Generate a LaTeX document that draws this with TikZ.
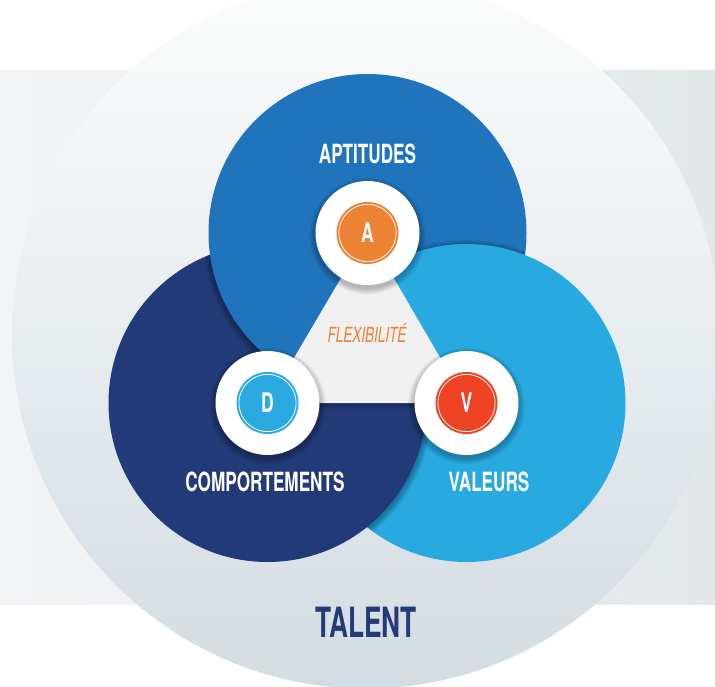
\documentclass[tikz,border=0pt]{standalone}
\usepackage{fontspec}
\newfontfamily\cnd[FakeStretch=0.65]{TeX Gyre Heros}
\newfontfamily\cndt[FakeStretch=0.63]{TeX Gyre Heros}
\usetikzlibrary{calc}
\definecolor{topblue}{HTML}{1F74BB}
\definecolor{navy}{HTML}{233A78}
\definecolor{lightblue}{HTML}{28A9E0}
\definecolor{orangeA}{HTML}{EE8234}
\definecolor{blueD}{HTML}{2AAAE1}
\definecolor{redV}{HTML}{EF4123}
\definecolor{trigray}{HTML}{F0F0F0}
\definecolor{flexorange}{HTML}{EE7F33}
\definecolor{bandL}{HTML}{F2F3F5}
\definecolor{bandR}{HTML}{E2E7EA}
\definecolor{bigT}{HTML}{FBFCFC}
\definecolor{bigB}{HTML}{D3DCE2}
\newcommand\mysoftshadow[4]{% center, radius, yshift, opacity
  \foreach \k in {1,...,8}{%
    \fill[black,opacity=#4] ($(#1)+(0,#3)$) circle[radius={(#2+\k*0.8)*1pt}];}}
\begin{document}
\begin{tikzpicture}[x=1pt,y=-1pt,
  lbl/.style={text=white, font=\cnd\bfseries\fontsize{26.4}{30}\selectfont, anchor=base, inner sep=0pt},
  flexlbl/.style={text=flexorange, font=\cnd\itshape\fontsize{20.8}{24}\selectfont, anchor=base, inner sep=0pt},
  talentlbl/.style={text=navy, font=\cndt\bfseries\fontsize{41.7}{46}\selectfont, anchor=base, inner sep=0pt},
  letterlbl/.style={text=white, font=\cnd\bfseries\fontsize{27}{30}\selectfont, inner sep=0pt},
  whitedisk/.style={circle, fill=white, minimum size=104pt, inner sep=0pt},
  colordisk/.style={circle, minimum size=62pt, inner sep=0pt},
  ring/.style={white, line width=0.8pt}]
\useasboundingbox (0,0) rectangle (715,687);
\fill[white] (0,0) rectangle (715,687);
% background band and big circle
\shade[left color=bandL, right color=bandR] (0,70.5) rectangle (715,604.5);
\shade[top color=bigT, bottom color=bigB] (366,334.5) circle[radius=354pt];
% centres
\coordinate (A) at (367.5,233);
\coordinate (D) at (267.5,403);
\coordinate (V) at (466.5,403);
% navy circle
\fill[navy] (D) circle[radius=159pt];
\begin{scope}
  \clip (D) circle[radius=159pt];
  \mysoftshadow{A}{159}{2}{0.035}
\end{scope}
% top circle
\fill[topblue] (A) circle[radius=159pt];
\begin{scope}
  \clip (A) circle[radius=159pt];
  \mysoftshadow{V}{159}{2}{0.035}
\end{scope}
% light blue circle
\fill[lightblue] (V) circle[radius=159pt];
\begin{scope}
  \clip (V) circle[radius=159pt];
  \mysoftshadow{D}{159}{2}{0.04}
\end{scope}
\begin{scope}
  \clip (V) circle[radius=160.8pt];
  \fill[navy] (D) circle[radius=159pt];
\end{scope}
% triangle
\foreach \k in {1,...,6}{%
  \fill[black,opacity=0.04] ($(A)+(0,\k)$) -- ($(D)+(0,\k)$) -- ($(V)+(0,\k)$) -- cycle;}
\fill[trigray] (A) -- (D) -- (V) -- cycle;
% white disks with shadows
\mysoftshadow{A}{52}{3}{0.03}
\mysoftshadow{D}{52}{3}{0.03}
\mysoftshadow{V}{52}{3}{0.03}
\node[whitedisk] (wA) at (A) {};
\node[whitedisk] (wD) at (D) {};
\node[whitedisk] (wV) at (V) {};
\node[colordisk, fill=orangeA] (cA) at (A) {};
\node[colordisk, fill=blueD] (cD) at (D) {};
\node[colordisk, fill=redV] (cV) at (V) {};
\draw[ring] (A) circle[radius=28.6pt];
\draw[ring] (D) circle[radius=28.6pt];
\draw[ring] (V) circle[radius=28.6pt];
\node[letterlbl] (tA) at (A) {A};
\node[letterlbl] (tD) at (D) {D};
\node[letterlbl] (tV) at (V) {V};
% labels
\node[lbl] (lapt) at (367.5,164) {APTITUDES};
\node[lbl] (lcomp) at (265,491.5) {COMPORTEMENTS};
\node[lbl] (lval) at (489,491.7) {VALEURS};
\node[flexlbl] (lflex) at (367,342.7) {FLEXIBILITÉ};
\node[talentlbl] (ltal) at (366,637) {TALENT};
\end{tikzpicture}
\end{document}
